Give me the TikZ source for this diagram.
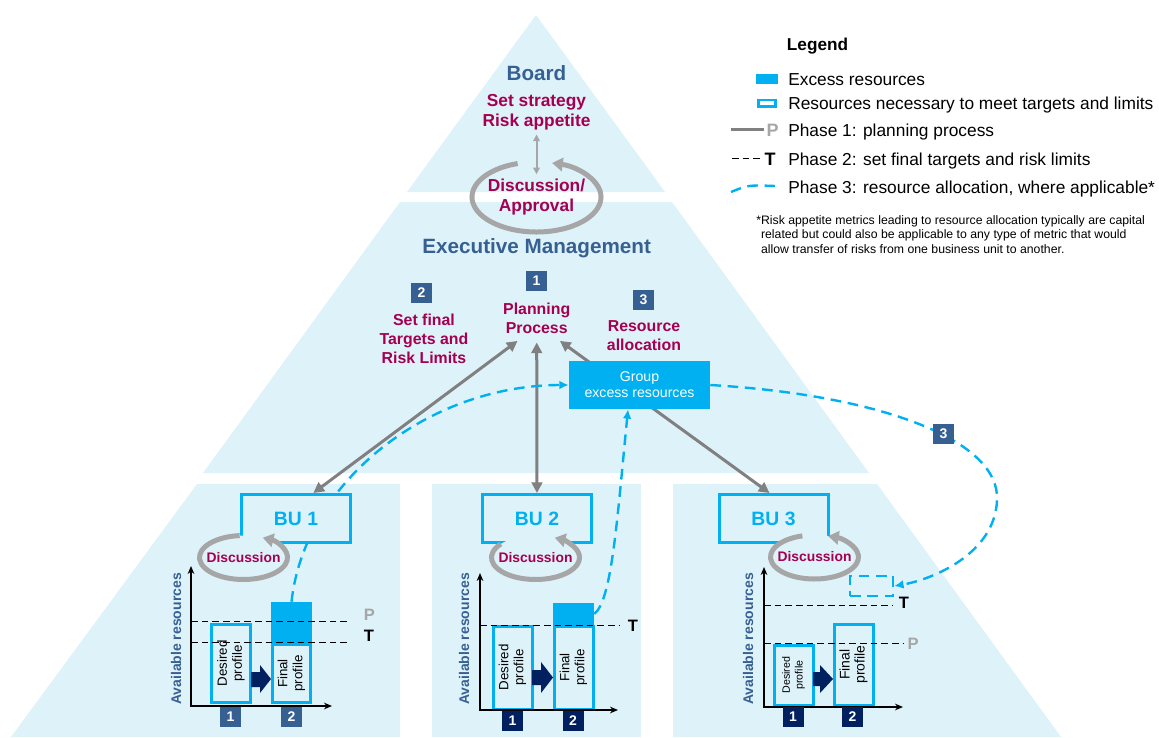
\documentclass[tikz,border=0pt]{standalone}
\usepackage{fontspec}
\setmainfont{Liberation Sans}
\usepackage{tikz}
\usetikzlibrary{arrows.meta}

\definecolor{tierblue}{RGB}{222,242,250}
\definecolor{bucyan}{RGB}{0,176,240}
\definecolor{slateblue}{RGB}{55,96,146}
\definecolor{navyblue}{RGB}{0,32,96}
\definecolor{wine}{RGB}{165,0,80}
\definecolor{arrowgray}{RGB}{128,128,128}
\definecolor{ringgray}{RGB}{166,166,166}

\begin{document}
\begin{tikzpicture}[x=0.75pt,y=0.75pt,yscale=-1,xscale=1,
  tier/.style={fill=tierblue},
  heading/.style={text=slateblue,font=\fontsize{15.5}{18}\selectfont\bfseries},
  boardtask/.style={text=wine,align=center,font=\fontsize{13}{15}\selectfont\bfseries},
  task/.style={text=wine,align=center,font=\fontsize{11.9}{14.25}\selectfont\bfseries},
  numbox/.style={fill=slateblue,text=white,inner sep=0pt,minimum width=15.75pt,minimum height=15pt,font=\fontsize{10.5}{12}\selectfont\bfseries},
  darknum/.style={numbox,fill=navyblue},
  unitbox/.style={draw=bucyan,line width=2.25pt,fill=tierblue,minimum width=81.75pt,minimum height=36pt,text=bucyan,font=\fontsize{14.5}{17}\selectfont\bfseries},
  groupbox/.style={fill=bucyan,text=white,align=center,minimum width=105.75pt,minimum height=36pt,font=\fontsize{10.6}{12}\selectfont},
  talk/.style={text=wine,inner sep=0pt,font=\fontsize{10.4}{12}\selectfont\bfseries},
  turn/.style={draw=ringgray,line width=3.75pt,-{Triangle[length=8pt,width=10pt]}},
  boardarrow/.style={draw=ringgray,line width=1.5pt,{Triangle[length=5pt,width=5pt]}-{Triangle[length=5pt,width=5pt]}},
  plan/.style={draw=arrowgray,line width=2.25pt,{Triangle[length=8pt,width=8pt]}-{Triangle[length=8pt,width=8pt]}},
  alloc/.style={draw=bucyan,line width=1.8pt,dash pattern=on 8pt off 5pt,-{Latex[length=7pt,width=6.5pt]}},
  profile/.style={draw=bucyan,line width=2.25pt,rotate=90,align=center,inner sep=0pt,font=\fontsize{10}{11.25}\selectfont},
  excess/.style={fill=bucyan,inner sep=0pt},
  limitline/.style={dash pattern=on 5pt off 3pt,line width=0.75pt},
  chartaxis/.style={line width=0.9pt,{Stealth[length=6pt,width=5pt]}-{Stealth[length=6pt,width=5pt]}},
  yname/.style={rotate=90,text=slateblue,font=\fontsize{10.5}{12}\selectfont\bfseries},
  limitname/.style={font=\fontsize{12.4}{14}\selectfont\bfseries},
  legendtext/.style={anchor=base west,inner sep=0pt,font=\fontsize{13}{16}\selectfont}
]
\useasboundingbox (0,0) rectangle (1159,738);

%Shape: pyramid tiers
\fill[tier] (536,15) -- (665,192) -- (407,192) -- cycle;
\fill[tier] (400,202) -- (672,202) -- (869,473) -- (203,473) -- cycle;
\fill[tier] (197,484) -- (400,484) -- (400,737) -- (11,737) -- cycle;
\fill[tier] (432,484) -- (641,484) -- (641,737) -- (432,737) -- cycle;
\fill[tier] (673,484) -- (877,484) -- (1061,737) -- (673,737) -- cycle;

% Text Node
\node[heading] (board) at (536.5,73) {Board};
\node[boardtask] (strategy) at (536.5,112) {Set strategy\\Risk appetite};
\node[boardtask] (approval) at (536.5,197) {Discussion/\\Approval};
\draw[boardarrow] (strategy) -- (approval);
%Curve Lines: board loop
\draw[turn] (approval.center) ++(253:64.5 and 35) arc[start angle=253,end angle=-76,x radius=64.5,y radius=35];

% Text Node
\node[heading] (exec) at (536.7,248) {Executive Management};
\node[numbox] (num1) at (536.5,280.5) {1};
\node[numbox] (num2) at (421.5,293) {2};
\node[numbox] (num3) at (643.5,300) {3};
\node[task] (targets) at (424,339) {Set final\\Targets and\\Risk Limits};
\node[task] (planning) at (536.7,318.5) {Planning\\Process};
\node[task] (resalloc) at (644,335.5) {Resource\\allocation};

%Shape: business units 2 and 3
\node[unitbox] (bu2) at (537,518.5) {BU 2};
\node[unitbox] (bu3) at (773.5,518.5) {BU 3};

%Straight Lines: planning process
\draw[plan,shorten <=3pt] (planning.south) -- (bu2.north);
\draw[plan,shorten <=3pt] ([xshift=15pt]planning.south) -- ([xshift=-3pt]bu3.north);

%Shape: group box
\node[groupbox] (group) at (639.5,385) {Group\\excess resources};

%Shape: profiles BU 1
\node[excess,minimum width=30.75pt,minimum height=30.75pt] (ex1) at (291.5,622.5) {};
\node[profile,minimum width=58.5pt,minimum height=29.25pt] (des1) at (231,663.5) {Desired\\profile};
\node[profile,minimum width=43.5pt,minimum height=28.5pt] (fin1) at (291.5,673.5) {Final\\profile};
%Shape: profiles BU 2
\node[excess,minimum width=30.75pt,minimum height=16.5pt] (ex2) at (573.5,614) {};
\node[profile,minimum width=62.25pt,minimum height=29.25pt] (des2) at (512.5,667.5) {Desired\\profile};
\node[profile,minimum width=62.25pt,minimum height=29.25pt] (fin2) at (573.5,667.5) {Final\\profile};
%Shape: profiles BU 3
\node[profile,minimum width=45pt,minimum height=29.25pt,font=\fontsize{8}{9.5}\selectfont] (des3) at (793.5,675) {Desired\\profile};
\node[profile,minimum width=60.75pt,minimum height=29.25pt,font=\fontsize{10.5}{11.25}\selectfont] (fin3) at (853.5,664.5) {Final\\profile};
\node[draw=bucyan,line width=1.8pt,dash pattern=on 8pt off 5pt,minimum width=32.25pt,minimum height=15pt,inner sep=0pt] (need3) at (871.5,586) {};

%Curve Lines: resource allocation
\draw[alloc] (ex1.north) .. controls (305,480) and (430,385) .. (group.west);
\draw[alloc] (ex2.east) .. controls (612,600) and (617,520) .. ([xshift=-8.6pt]group.south);
\draw[alloc] (group.east) .. controls (880,395) and (1000,440) .. (997,500) .. controls (995,555) and (930,580) .. (need3.east);
\node[numbox] (num3b) at (943.5,433.5) {3};

%Shape: business unit 1
\node[unitbox] (bu1) at (296,518.5) {BU 1};
\draw[plan,shorten <=3pt] ([xshift=-12pt]planning.south) -- ([xshift=13pt]bu1.north);

%Curve Lines: discussion loops
\node[talk] (talk1) at (243.5,557.5) {\phantom{Discussion}};
\fill[tierblue] (talk1.center) ellipse[x radius=44,y radius=22];
\draw[turn] (talk1.center) ++(265:44 and 22) arc[start angle=265,end angle=-64,x radius=44,y radius=22];
\node[talk] at (talk1) {Discussion};
\node[talk] (talk2) at (535.5,557.5) {\phantom{Discussion}};
\fill[tierblue] (talk2.center) ellipse[x radius=44,y radius=22];
\draw[turn] (talk2.center) ++(218:44 and 22) arc[start angle=218,end angle=-64,x radius=44,y radius=22];
\node[talk] at (talk2) {Discussion};
\node[talk] (talk3) at (814.5,557) {\phantom{Discussion}};
\fill[tierblue] (talk3.center) ellipse[x radius=44,y radius=22];
\draw[turn] (talk3.center) ++(254:44 and 22) arc[start angle=254,end angle=-72,x radius=44,y radius=22];
\node[talk] at (talk3) {Discussion};

%Straight Lines: charts
\draw[chartaxis] (191,566) -- (191,706) -- (332,706);
\draw[chartaxis] (480,573) -- (480,710) -- (618,710);
\draw[chartaxis] (764,567) -- (764,707) -- (903,707);
\node[yname] (avail1) at (176,639) {Available resources};
\node[yname] (avail2) at (464,639) {Available resources};
\node[yname] (avail3) at (748,639) {Available resources};

\node[limitname,text=ringgray] (p1) at (369.5,614.5) {P};
\node[limitname] (t1) at (369,636) {T};
\draw[limitline] (191,621) -- (348,621);
\draw[limitline] (191,642) -- (348,642);
\node[limitname] (t2) at (633,625.5) {T};
\draw[limitline] (480,625) -- (619,625);
\node[limitname] (t3) at (904,603) {T};
\node[limitname,text=ringgray] (p3) at (913,643.5) {P};
\draw[limitline] (764,605) -- (893,605);
\draw[limitline] (764,643) -- (903,643);

%Shape: block arrows
\fill[navyblue] (251,672) -- (260,672) -- (260,665) -- (271,679) -- (260,693) -- (260,687) -- (251,687) -- cycle;
\fill[navyblue] (532,670) -- (541,670) -- (541,662) -- (553,677.5) -- (541,693) -- (541,685) -- (532,685) -- cycle;
\fill[navyblue] (813,672) -- (820,672) -- (820,665) -- (833,679) -- (820,693) -- (820,686) -- (813,686) -- cycle;

% Text Node: step numbers
\node[numbox] (s11) at (230.5,716.5) {1};
\node[numbox] (s12) at (291.5,716.5) {2};
\node[darknum] (s21) at (512.5,720.5) {1};
\node[darknum] (s22) at (573,720.5) {2};
\node[darknum] (s31) at (793,717) {1};
\node[darknum] (s32) at (852.5,717) {2};

% Text Node: legend
\node[font=\fontsize{12.9}{15}\selectfont\bfseries] (legend) at (817.5,46.5) {Legend};
\node[fill=bucyan,minimum width=16.5pt,minimum height=7.5pt,inner sep=0pt] (swexcess) at (767,79) {};
\node[legendtext] (kexcess) at (788,85.3) {Excess resources};
\node[draw=bucyan,line width=1.9pt,minimum width=13.1pt,minimum height=4.9pt,inner sep=0pt] (swneed) at (767,103.5) {};
\node[legendtext] (kneed) at (788,109.3) {Resources necessary to meet targets and limits};
\node[font=\fontsize{13.5}{15}\selectfont\bfseries,text=ringgray,inner sep=0pt] (kp) at (772.5,130) {P};
\draw[arrowgray,line width=2.25pt] (731,130) -- ([xshift=-1.5pt]kp.west);
\node[legendtext] (kphase1) at (788,136.5) {Phase 1: planning process};
\node[font=\fontsize{13.5}{15}\selectfont\bfseries,inner sep=0pt] (kt) at (770,159) {T};
\draw[limitline] (732,159) -- ([xshift=-2pt]kt.west);
\node[legendtext] (kphase2) at (788,165.3) {Phase 2: set final targets and risk limits};
\draw[draw=bucyan,line width=1.8pt,dash pattern=on 8pt off 5pt] (731,192) .. controls (748,185) .. (775,186);
\node[legendtext] (kphase3) at (788,193.5) {Phase 3: resource allocation, where applicable*};
\node[anchor=north west,inner sep=0pt,align=left,font=\fontsize{9.2}{10.9}\selectfont] (note) at (756,215) {*Risk appetite metrics leading to resource allocation typically are capital\\\hphantom{*}related but could also be applicable to any type of metric that would\\\hphantom{*}allow transfer of risks from one business unit to another.};

\end{tikzpicture}
\end{document}
